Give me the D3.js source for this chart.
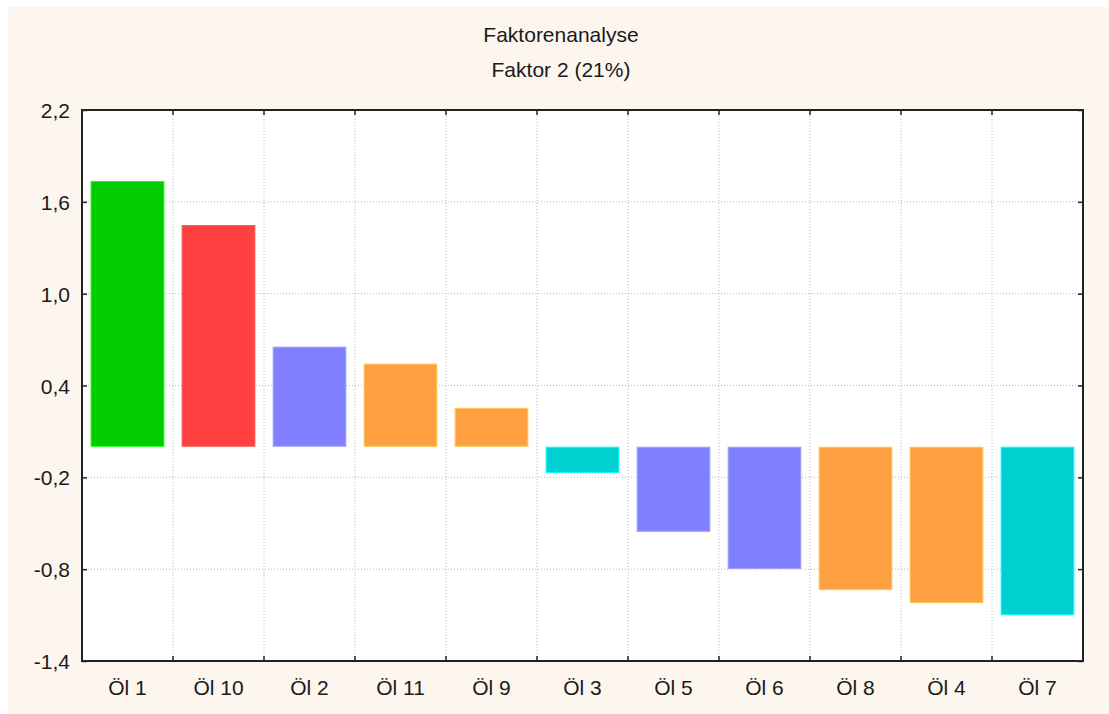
<!DOCTYPE html>
<html>
<head>
<meta charset="utf-8">
<script src="https://cdn.jsdelivr.net/npm/d3@7"></script>
<style>
  body { margin: 0; background: #fff; }
  text { font-family: "Liberation Sans", Arial, sans-serif; fill: #1a1a1a; }
</style>
</head>
<body>
<div id="chart"></div>
<script>
var categories = ["Öl 1", "Öl 10", "Öl 2", "Öl 11", "Öl 9", "Öl 3", "Öl 5", "Öl 6", "Öl 8", "Öl 4", "Öl 7"];
var values = [1.735, 1.448, 0.654, 0.543, 0.254, -0.171, -0.556, -0.799, -0.937, -1.022, -1.101];
var groups = ["g1", "g2", "g3", "g4", "g4", "g5", "g3", "g3", "g4", "g4", "g5"];
var yTicks = [-1.4, -0.8, -0.2, 0.4, 1.0, 1.6, 2.2];
var titleLines = ["Faktorenanalyse", "Faktor 2 (21%)"];

var width = 1109, height = 714;
var margin = {top: 110, left: 82, bottom: 53, right: 26};
var plotWidth = width - margin.left - margin.right;
var plotHeight = height - margin.top - margin.bottom;

var colorScale = d3.scaleOrdinal()
  .domain(["g1", "g2", "g3", "g4", "g5"])
  .range(["#00cc00", "#ff4040", "#8080ff", "#ffa040", "#00d0d0"]);

var xScale = d3.scaleBand()
  .domain(categories)
  .range([0, plotWidth])
  .paddingInner(0.19)
  .paddingOuter(0.095);

var yScale = d3.scaleLinear()
  .domain([-1.4, 2.2])
  .range([plotHeight, 0]);

const svg = d3.select("#chart")
  .append("svg")
  .attr("width", width)
  .attr("height", height)
  .style("display", "block");

svg.append("rect")
  .attr("x", 8)
  .attr("y", 7)
  .attr("width", width - 8)
  .attr("height", height - 7)
  .style("fill", "#fdf6ef");

svg.append("text").selectAll("tspan")
  .data(titleLines)
  .enter().append("tspan")
  .attr("x", 561)
  .attr("y", (d, i) => 42 + i * 35)
  .attr("text-anchor", "middle")
  .style("font-size", "21px")
  .text((d) => d);

var g = svg.append("g")
  .attr("transform", "translate(" + margin.left + "," + margin.top + ")");

g.append("rect")
  .attr("width", plotWidth)
  .attr("height", plotHeight)
  .style("fill", "#fff");

// dotted grid
var step = plotWidth / categories.length;
g.selectAll("line.vgrid")
  .data(d3.range(1, categories.length))
  .enter().append("line")
  .attr("x1", (d) => d * step)
  .attr("x2", (d) => d * step)
  .attr("y1", 0)
  .attr("y2", plotHeight)
  .style("stroke", "#b8b8b8")
  .style("stroke-dasharray", "1,2");

g.selectAll("line.hgrid")
  .data(yTicks.slice(1, -1))
  .enter().append("line")
  .attr("x1", 0)
  .attr("x2", plotWidth)
  .attr("y1", (d) => yScale(d))
  .attr("y2", (d) => yScale(d))
  .style("stroke", "#b8b8b8")
  .style("stroke-dasharray", "1,2");

// bars
var y0 = yScale(0);
g.selectAll("rect.bar")
  .data(values)
  .enter().append("rect")
  .attr("x", (d, i) => xScale(categories[i]) + 0.5)
  .attr("y", (d) => Math.min(yScale(d), y0) + 0.5)
  .attr("width", xScale.bandwidth() - 1)
  .attr("height", (d) => Math.abs(yScale(d) - y0) - 1)
  .style("fill", (d, i) => colorScale(groups[i]))
  .style("stroke", (d, i) => d3.color(colorScale(groups[i])).brighter(0.6))
  .style("stroke-width", "1px");

// axes with inward ticks
var yAxis = d3.axisLeft(yScale)
  .tickValues(yTicks)
  .tickSize(-5)
  .tickPadding(12)
  .tickFormat((d) => d.toFixed(1).replace(".", ","));

g.append("g")
  .call(yAxis)
  .call((s) => s.select(".domain").remove())
  .call((s) => s.selectAll("text").style("font-size", "21px").attr("dy", "0.36em"))
  .call((s) => s.selectAll("line").style("stroke", "#222").style("stroke-width", "1.5px"));

g.append("g")
  .attr("transform", "translate(" + plotWidth + ",0)")
  .call(d3.axisRight(yScale).tickValues(yTicks).tickSize(-5).tickFormat(""))
  .call((s) => s.select(".domain").remove())
  .call((s) => s.selectAll("line").style("stroke", "#222").style("stroke-width", "1.5px"));

var xAxis = d3.axisBottom(xScale).tickSize(0).tickPadding(19);
g.append("g")
  .attr("transform", "translate(0," + plotHeight + ")")
  .call(xAxis)
  .call((s) => s.select(".domain").remove())
  .call((s) => s.selectAll("text").style("font-size", "21px"));

g.selectAll("line.xtick")
  .data(d3.range(1, categories.length))
  .enter().append("line")
  .attr("x1", (d) => d * step)
  .attr("x2", (d) => d * step)
  .attr("y1", plotHeight)
  .attr("y2", plotHeight - 5)
  .style("stroke", "#222")
  .style("stroke-width", "1.5px");

g.selectAll("line.xtickTop")
  .data(d3.range(1, categories.length))
  .enter().append("line")
  .attr("x1", (d) => d * step)
  .attr("x2", (d) => d * step)
  .attr("y1", 0)
  .attr("y2", 5)
  .style("stroke", "#222")
  .style("stroke-width", "1.5px");

g.append("rect")
  .attr("width", plotWidth)
  .attr("height", plotHeight)
  .style("fill", "none")
  .style("stroke", "#222")
  .style("stroke-width", "2px");
</script>
</body>
</html>
